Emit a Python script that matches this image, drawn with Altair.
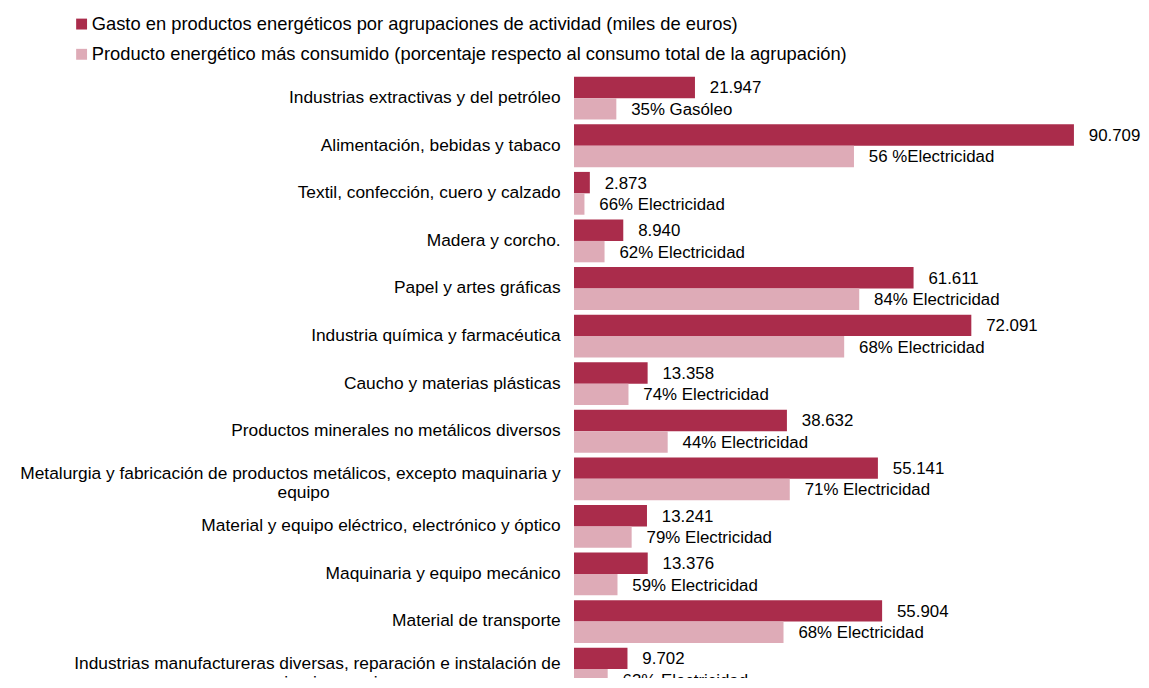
import altair as alt
import pandas as pd

categorias = [
    "Industrias extractivas y del petróleo",
    "Alimentación, bebidas y tabaco",
    "Textil, confección, cuero y calzado",
    "Madera y corcho.",
    "Papel y artes gráficas",
    "Industria química y farmacéutica",
    "Caucho y materias plásticas",
    "Productos minerales no metálicos diversos",
    "Metalurgia y fabricación de productos metálicos, excepto maquinaria y\nequipo",
    "Material y equipo eléctrico, electrónico y óptico",
    "Maquinaria y equipo mecánico",
    "Material de transporte",
    "Industrias manufactureras diversas, reparación e instalación de\nmaquinaria y equipo",
]
gasto = [21947, 90709, 2873, 8940, 61611, 72091, 13358, 38632, 55141, 13241, 13376, 55904, 9702]
porcentaje = [35, 56, 66, 62, 84, 68, 74, 44, 71, 79, 59, 68, 63]
etiquetas = [
    "35% Gasóleo",
    "56 %Electricidad",
    "66% Electricidad",
    "62% Electricidad",
    "84% Electricidad",
    "68% Electricidad",
    "74% Electricidad",
    "44% Electricidad",
    "71% Electricidad",
    "79% Electricidad",
    "59% Electricidad",
    "68% Electricidad",
    "63% Electricidad",
]
leyenda_gasto = "Gasto en productos energéticos por agrupaciones de actividad (miles de euros)"
leyenda_prod = "Producto energético más consumido (porcentaje respecto al consumo total de la agrupación)"

# centre the second line of wrapped labels under the first (non-breaking spaces + zero-width end)
NBSP = "\u00a0"
ZW = "\u200b"
relleno = {8: 48, 12: 34}
cats = []
for i, c in enumerate(categorias):
    if "\n" in c:
        a, b = c.split("\n")
        c = a + "\n" + b + NBSP * relleno.get(i, 0) + ZW
    cats.append(c)

df = pd.DataFrame({"cat": cats, "gasto": gasto, "pct": porcentaje, "etiqueta": etiquetas})

OSCURO = "#AA2C4B"
CLARO = "#DEABB7"
FS = 17.5
FONT = "Liberation Sans"

base = alt.Chart(df).transform_calculate(
    principal="datum.gasto * datum.pct / 100"
).transform_fold(["gasto", "principal"], as_=["serie", "valor"]).transform_calculate(
    texto="datum.serie == 'gasto' ? replace(format(datum.valor, ','), ',', '.') : datum.etiqueta"
)

y_enc = alt.Y(
    "cat:N",
    sort=cats,
    scale=alt.Scale(paddingInner=0.1, paddingOuter=0.05, range=[0, 624]),
    axis=alt.Axis(
        title=None, domain=False, ticks=False, grid=False,
        labelFontSize=FS, labelColor="#000000", labelFont=FONT,
        labelPadding=14, labelLimit=0, labelLineHeight=19,
        labelExpr="split(datum.label, '\\n')",
        labelOffset={"condition": {"test": "indexof(datum.label, '\\n') >= 0", "value": -5}, "value": 0},
    ),
)
yoff = alt.YOffset("serie:N", sort=["gasto", "principal"], scale=alt.Scale(paddingInner=0, paddingOuter=0))
x_enc = alt.X("valor:Q", scale=alt.Scale(domain=[0, 100000]), axis=None)

bars = base.mark_bar().encode(
    y=y_enc,
    yOffset=yoff,
    x=x_enc,
    color=alt.Color(
        "serie:N",
        scale=alt.Scale(domain=["gasto", "principal"], range=[OSCURO, CLARO]),
        legend=alt.Legend(
            title=None, orient="none", legendX=-506, legendY=-60, direction="vertical",
            padding=0, symbolType="square", symbolSize=121, symbolStrokeWidth=0,
            labelFontSize=18.5, labelFont=FONT, labelColor="#000000",
            labelOffset=1, rowPadding=11.5, labelLimit=0,
            labelExpr=f"datum.label == 'gasto' ? '{leyenda_gasto}' : '{leyenda_prod}'",
        ),
    ),
)

texts = base.mark_text(
    align="left", baseline="middle", dx=15, dy=1, fontSize=17, font=FONT, color="#000000"
).encode(
    y=alt.Y("cat:N", sort=cats),
    yOffset=yoff,
    x=x_enc,
    text="texto:N",
)

chart = alt.layer(bars, texts).properties(
    width=556,
    height=606,
    autosize=alt.AutoSizeParams(type="none"),
    padding={"left": 571, "top": 64, "right": 16, "bottom": 0},
).configure(font=FONT).configure_view(stroke=None)

chart.save("out.html", embed_options={"renderer": "svg", "actions": False})
